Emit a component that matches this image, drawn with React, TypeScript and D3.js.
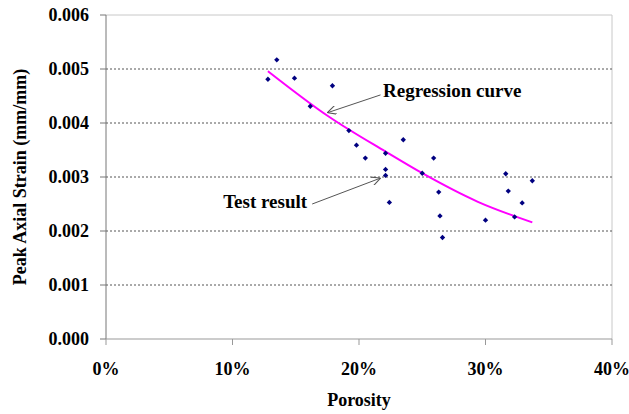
import React from "react";
import * as d3 from "d3";

// porosity (%) and peak axial strain (mm/mm)
const porosity = [12.8, 13.5, 14.9, 17.9, 16.15, 19.2, 19.8, 20.5, 22.1, 23.5, 22.1, 22.1, 22.4, 25.0, 25.9, 26.3, 26.4, 26.6, 30.0, 31.6, 31.8, 32.3, 32.9, 33.7];
const strain = [0.00481, 0.00517, 0.00483, 0.00469, 0.00431, 0.00386, 0.00359, 0.00335, 0.00344, 0.00369, 0.00314, 0.00303, 0.00253, 0.00307, 0.00335, 0.00272, 0.00228, 0.00188, 0.0022, 0.00306, 0.00274, 0.00226, 0.00252, 0.00293];

// regression curve, sampled from the figure
const curvePorosity = [12.8, 17.6, 22.1, 25.0, 29.4, 33.7];
const curveStrain = [0.00496, 0.00412, 0.00347, 0.00307, 0.00254, 0.00216];

const xTicks = [0, 10, 20, 30, 40];
const yTicks = [0, 0.001, 0.002, 0.003, 0.004, 0.005, 0.006];

const width = 629;
const height = 414;
const margin = { top: 15, right: 17, bottom: 75, left: 106 };

const App = () => {
    const x = d3.scaleLinear().domain([0, 40]).range([margin.left, width - margin.right]);
    const y = d3.scaleLinear().domain([0, 0.006]).range([height - margin.bottom, margin.top]);

    const points = porosity.map((p, i) => ({ p, s: strain[i] }));
    const curve = curvePorosity.map((p, i) => [p, curveStrain[i]] as [number, number]);

    const line = d3.line<[number, number]>()
        .x(d => x(d[0]))
        .y(d => y(d[1]))
        .curve(d3.curveMonotoneX);

    const diamond = d3.symbol().type(d3.symbolDiamond2).size(18)();
    const font = "Liberation Serif, DejaVu Serif, serif";

    const x0 = x(0), x1 = x(40), yb = y(0), yt = y(0.006);

    return (
        <svg width={width} height={height}
            style={{ position: "absolute", left: 0, top: 0, background: "#fff", fontFamily: font, fontWeight: "bold" }}>
            <defs>
                <marker id="arr" viewBox="0 0 10 10" refX="10" refY="5" markerWidth="9" markerHeight="9"
                    orient="auto" markerUnits="userSpaceOnUse">
                    <path d="M0,0 L10,5 L0,10" fill="none" stroke="#555" strokeWidth="1.2" />
                </marker>
            </defs>

            {/* plot frame */}
            <line x1={x0} x2={x1} y1={yt} y2={yt} stroke="#c8c8c8" />
            <line x1={x1} x2={x1} y1={yt} y2={yb} stroke="#c8c8c8" />

            {/* grid */}
            {yTicks.filter(t => t > 0 && t < 0.006).map(t => (
                <line key={t} x1={x0} x2={x1} y1={y(t)} y2={y(t)} stroke="#555" strokeDasharray="2,2" />
            ))}

            {/* axes */}
            <line x1={x0} x2={x0} y1={yt} y2={yb} stroke="#777" />
            <line x1={x0} x2={x1} y1={yb} y2={yb} stroke="#999" />
            {yTicks.map(t => (
                <g key={t}>
                    <line x1={x0 - 6} x2={x0} y1={y(t)} y2={y(t)} stroke="#777" />
                    <text x={x0 - 17} y={y(t)} dy="0.35em" textAnchor="end" fontSize={18}>{t.toFixed(3)}</text>
                </g>
            ))}
            {xTicks.map(t => (
                <g key={t}>
                    <line x1={x(t)} x2={x(t)} y1={yb} y2={yb + 6} stroke="#999" />
                    <text x={x(t)} y={yb + 30} dy="0.35em" textAnchor="middle" fontSize={18}>{t}%</text>
                </g>
            ))}

            <text x={(x0 + x1) / 2} y={400} dy="0.35em" textAnchor="middle" fontSize={18}>Porosity</text>
            <text transform={`translate(20,${(yt + yb) / 2}) rotate(-90)`} dy="0.35em" textAnchor="middle" fontSize={18}>
                Peak Axial Strain (mm/mm)
            </text>

            {/* regression curve */}
            <path d={line(curve) || ""} fill="none" stroke="#ff00ff" strokeWidth={2} />

            {/* test results */}
            {points.map((d, i) => (
                <path key={i} d={diamond || ""} transform={`translate(${x(d.p)},${y(d.s)})`} fill="#000080" />
            ))}

            {/* annotations */}
            <line x1={x(21.7)} y1={y(0.00452)} x2={x(17.5)} y2={y(0.00419)} stroke="#555" markerEnd="url(#arr)" />
            <text x={x(21.9)} y={y(0.00461)} dy="0.35em" fontSize={19}>Regression curve</text>
            <line x1={x(16.3)} y1={y(0.0025)} x2={x(21.7)} y2={y(0.00298)} stroke="#555" markerEnd="url(#arr)" />
            <text x={x(15.9)} y={y(0.00254)} dy="0.35em" textAnchor="end" fontSize={19}>Test result</text>
        </svg>
    );
};

export default App;
